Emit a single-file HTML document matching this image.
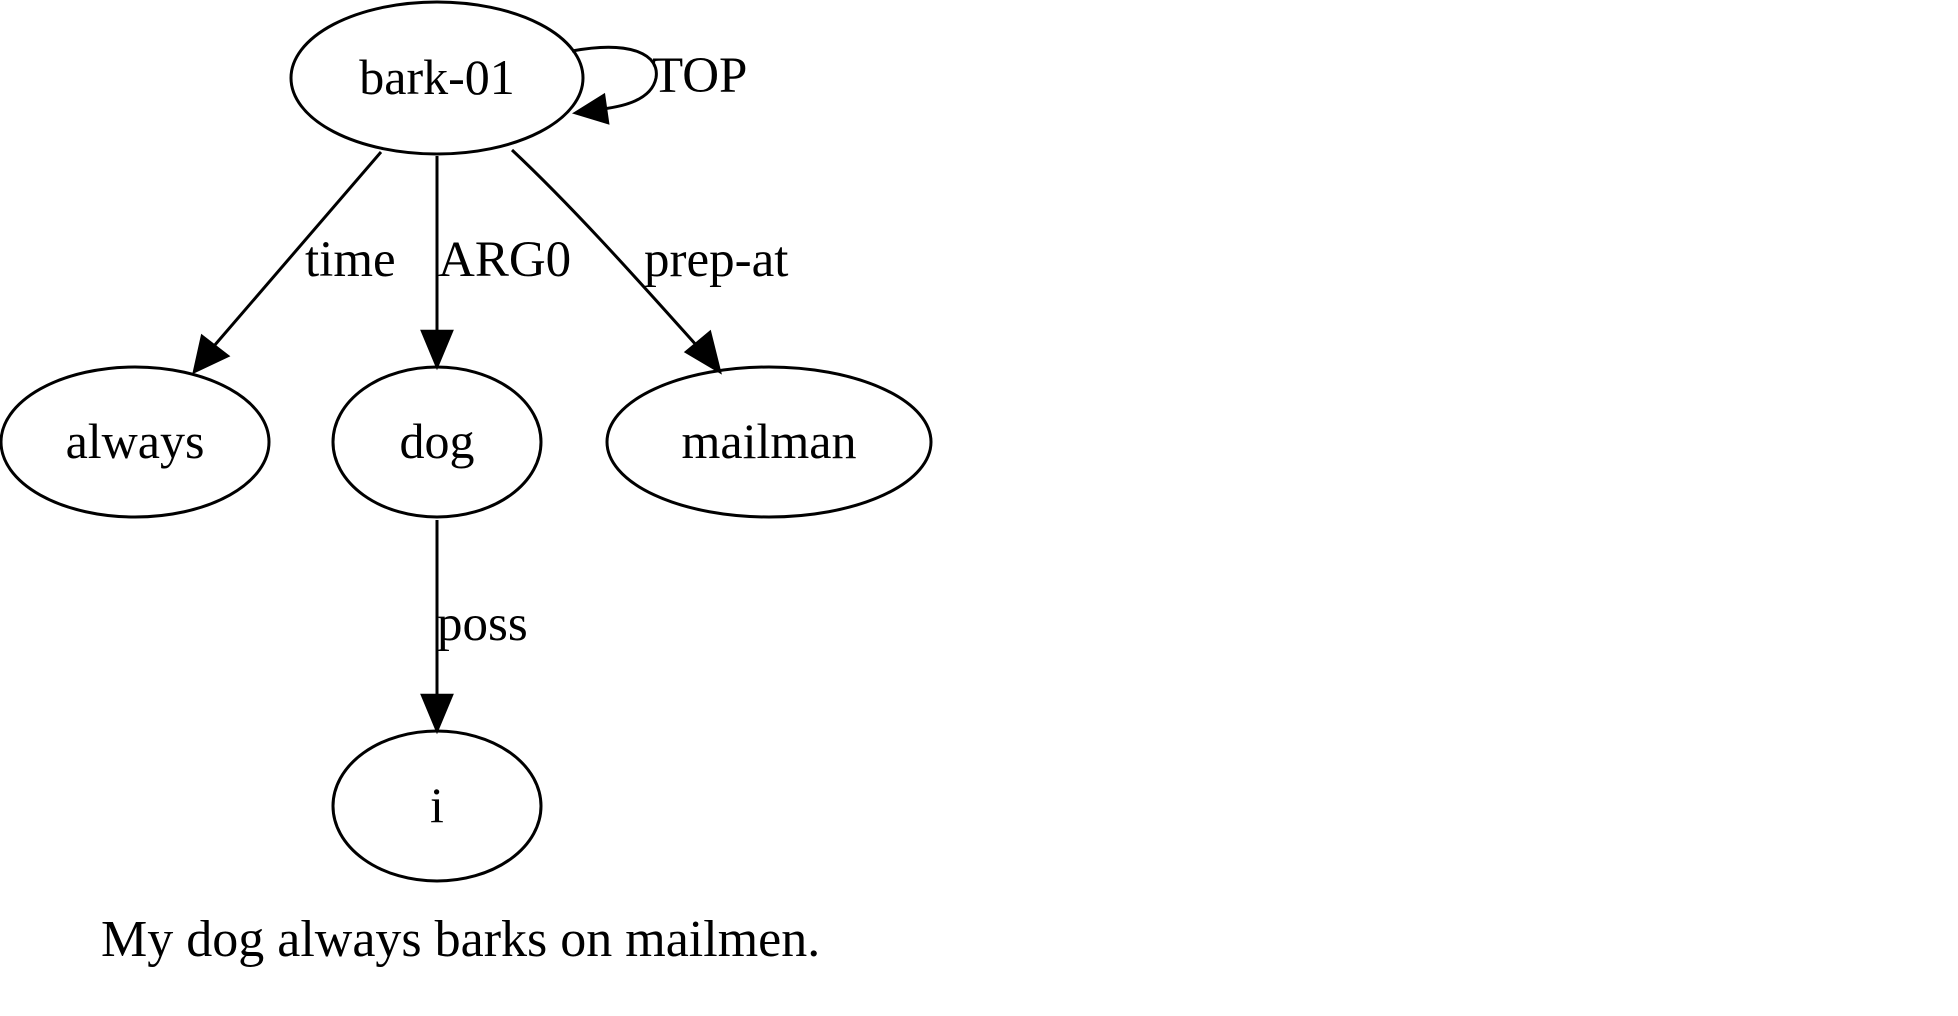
<!DOCTYPE html>
<html><head><meta charset="utf-8"><style>
html,body{margin:0;padding:0;background:#fff;width:1958px;height:1016px;overflow:hidden}
text{font-family:"Liberation Serif",serif;fill:#000}
</style></head><body>
<svg width="1958" height="1016" viewBox="0 0 1958 1016" xmlns="http://www.w3.org/2000/svg">
<g fill="none" stroke="#000" stroke-width="3">
<ellipse cx="437" cy="78" rx="146" ry="76"/>
<ellipse cx="135" cy="442" rx="134" ry="75"/>
<ellipse cx="437" cy="442" rx="104" ry="75"/>
<ellipse cx="769" cy="442" rx="162" ry="75"/>
<ellipse cx="437" cy="806" rx="104" ry="75"/>
<path d="M381,152 L214,346"/>
<path d="M437,156 L437,333"/>
<path d="M512,150 C576,210 645,288 697,346"/>
<path d="M437,520 L437,697"/>
<path d="M572,51 C632,40 660,55 656,78 C652,98 628,106 602,109"/>
</g>
<g fill="#000" stroke="#000" stroke-width="2.5">
<polygon points="194,372 202,336 228,356"/>
<polygon points="437,367 422,331 452,331"/>
<polygon points="720,372 686,352 710,332"/>
<polygon points="437,731 422,695 452,695"/>
<polygon points="575,113 604,95 608,123"/>
</g>
<g font-size="50" text-anchor="middle">
<text x="437" y="94">bark-01</text>
<text x="135" y="458">always</text>
<text x="437" y="458">dog</text>
<text x="769" y="458">mailman</text>
<text x="437" y="822">i</text>
</g>
<g font-size="51">
<text x="305" y="276">time</text>
<text x="438" y="276">ARG0</text>
<text x="644" y="276">prep-at</text>
<text x="437" y="640">poss</text>
<text x="652" y="92">TOP</text>
</g>
<text x="101" y="956" font-size="52">My dog always barks on mailmen.</text>
</svg>
</body></html>
